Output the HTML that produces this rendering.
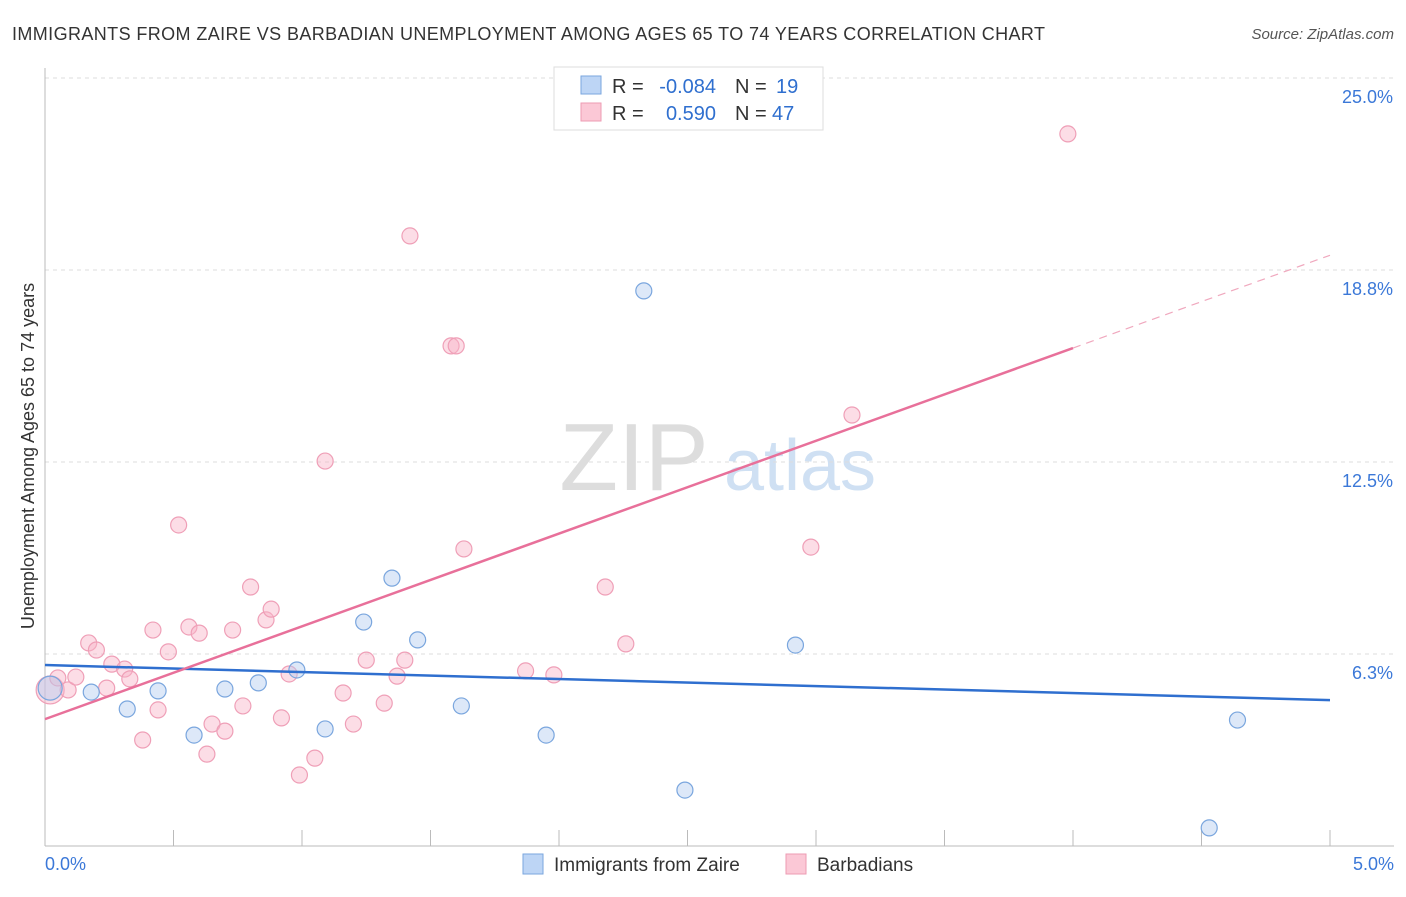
<!DOCTYPE html>
<html><head><meta charset="utf-8"><style>
body{margin:0;background:#fff;font-family:"Liberation Sans",sans-serif;}
svg text{font-family:"Liberation Sans",sans-serif;}
</style></head><body>
<svg id="c" width="1406" height="892" xmlns="http://www.w3.org/2000/svg">
<text x="12" y="40" font-size="18" textLength="1033" fill="#333">IMMIGRANTS FROM ZAIRE VS BARBADIAN UNEMPLOYMENT AMONG AGES 65 TO 74 YEARS CORRELATION CHART</text>
<text x="1394" y="39" font-size="15" fill="#555" font-style="italic" text-anchor="end">Source: ZipAtlas.com</text>
<text x="634" y="490" font-size="96" fill="#ddd" font-family="Liberation Serif" text-anchor="middle">ZIP</text>
<text x="800" y="490" font-size="72" fill="#cfe0f3" text-anchor="middle">atlas</text>
<g id="grid"></g><g id="axes"></g><g id="marks"></g>
<text transform="translate(34,456) rotate(-90)" font-size="18" fill="#333" text-anchor="middle">Unemployment Among Ages 65 to 74 years</text>
<g font-size="20">
<rect x="554" y="67" width="269" height="63" fill="#fff" stroke="#ddd"/>
<rect x="581" y="76" width="20" height="18" fill="#bdd5f5" stroke="#7aa6de"/>
<rect x="581" y="103" width="20" height="18" fill="#fbc8d6" stroke="#ee9bb3"/>
<text x="612" y="93" fill="#333">R =</text>
<text x="716" y="93" fill="#2f6fcf" text-anchor="end">-0.084</text>
<text x="735" y="93" fill="#333">N =</text>
<text x="776" y="93" fill="#2f6fcf">19</text>
<text x="612" y="120" fill="#333">R =</text>
<text x="716" y="120" fill="#2f6fcf" text-anchor="end">0.590</text>
<text x="735" y="120" fill="#333">N =</text>
<text x="772" y="120" fill="#2f6fcf">47</text>
</g>
<g>
<rect x="523" y="854" width="20" height="20" fill="#bdd5f5" stroke="#7aa6de"/>
<text x="554" y="871" font-size="19" fill="#333">Immigrants from Zaire</text>
<rect x="786" y="854" width="20" height="20" fill="#fbc8d6" stroke="#ee9bb3"/>
<text x="817" y="871" font-size="19" fill="#333">Barbadians</text>
</g>
</svg>
<script>
const yTicks=[6.25,12.5,18.75,25];
const yTickLabels=["6.3%","12.5%","18.8%","25.0%"];
const xTickLabels=["0.0%","5.0%"];
const zaireX=[0.02,0.18,0.32,0.44,0.58,0.70,0.83,0.98,1.09,1.24,1.35,1.45,1.62,1.95,2.33,2.49,2.92,4.53,4.64];
const zaireY=[5.14,5.01,4.46,5.05,3.61,5.11,5.31,5.73,3.81,7.29,8.72,6.71,4.56,3.61,18.07,1.82,6.54,0.59,4.10];
const barbX=[0.02,0.05,0.09,0.12,0.17,0.20,0.24,0.26,0.31,0.33,0.38,0.42,0.44,0.48,0.52,0.56,0.60,0.63,0.65,0.70,0.73,0.77,0.80,0.86,0.88,0.92,0.95,0.99,1.05,1.09,1.16,1.20,1.25,1.32,1.37,1.40,1.42,1.58,1.60,1.63,1.87,1.98,2.18,2.26,2.98,3.14,3.98];
const barbY=[5.08,5.47,5.08,5.50,6.61,6.38,5.14,5.92,5.76,5.44,3.45,7.03,4.43,6.32,10.45,7.13,6.93,2.99,3.97,3.74,7.03,4.56,8.43,7.36,7.71,4.17,5.60,2.31,2.86,12.53,4.98,3.97,6.05,4.65,5.53,6.05,19.86,16.28,16.28,9.67,5.70,5.57,8.43,6.58,9.73,14.03,23.18];
const zaireTrend=[5.89,4.75];
const barbTrend=[4.13,19.23];
const NS="http://www.w3.org/2000/svg";
const X=v=>45+v*257, Y=v=>846-v*30.72;
function mk(t,a,p){const e=document.createElementNS(NS,t);for(const k in a)e.setAttribute(k,a[k]);p.appendChild(e);return e;}
const g=document.getElementById('grid'),ax=document.getElementById('axes'),m=document.getElementById('marks');
yTicks.forEach((t,i)=>{
 const l=mk('line',{x1:45,x2:1394,y1:Y(t),y2:Y(t),stroke:'#ddd','stroke-dasharray':'4,4'},g);
 
 
 const tx=mk('text',{x:1393,y:Y(t)+25,'font-size':18,fill:'#3b78d8','text-anchor':'end'},ax);tx.textContent=yTickLabels[i];
 
 
});
const xa=mk('line',{x1:45,x2:1394,y1:846,y2:846,stroke:'#bbb'},ax);


const ya=mk('line',{x1:45,x2:45,y1:68,y2:846,stroke:'#bbb'},ax);


for(let i=0;i<=10;i++){const t=mk('line',{x1:X(i*0.5),x2:X(i*0.5),y1:830,y2:846,stroke:'#bbb'},ax);
 
 }
[[0,'start',45],[5,'end',1394]].forEach((d,i)=>{const t=mk('text',{x:d[2],y:870,'font-size':18,fill:'#3b78d8','text-anchor':d[1]},ax);t.textContent=xTickLabels[i];
 
 });
barbX.forEach((x,i)=>{const c=mk('circle',{cx:X(x),cy:Y(barbY[i]),r:i==0?14:8,fill:'rgba(248,180,200,0.45)',stroke:'#ef9fb7','stroke-width':1.2},m);
 
 });
zaireX.forEach((x,i)=>{const c=mk('circle',{cx:X(x),cy:Y(zaireY[i]),r:i==0?12:8,fill:'rgba(180,205,240,0.45)',stroke:'#7aa6de','stroke-width':1.2},m);
 
 });
const zl=mk('line',{x1:X(0),y1:Y(zaireTrend[0]),x2:X(5),y2:Y(zaireTrend[1]),stroke:'#2f6fcf','stroke-width':2.5},m);


const bs=(barbTrend[1]-barbTrend[0])/5;
const bl=mk('line',{x1:X(0),y1:Y(barbTrend[0]),x2:X(4),y2:Y(barbTrend[0]+bs*4),stroke:'#e8709a','stroke-width':2.5},m);


const bd=mk('line',{x1:X(4),y1:Y(barbTrend[0]+bs*4),x2:X(5),y2:Y(barbTrend[1]),stroke:'#f0a8be','stroke-width':1.2,'stroke-dasharray':'8,6'},m);


</script>
</body></html>
